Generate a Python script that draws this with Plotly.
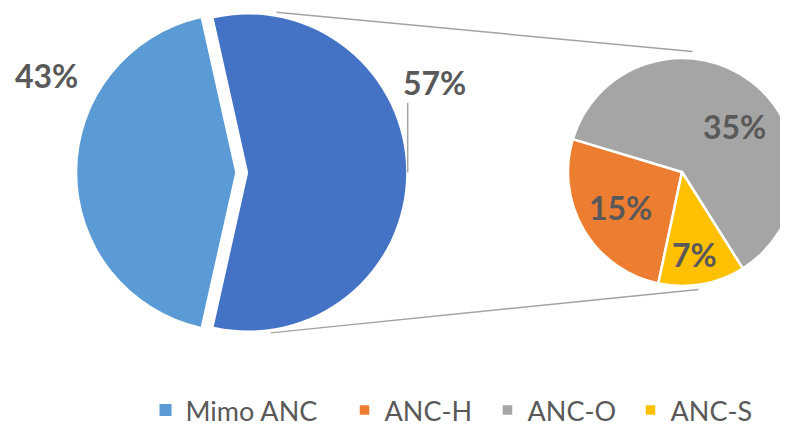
import math
import plotly.graph_objects as go

W, H = 788, 427
# the page shows the figure offset by the default 8px body margin
OX, OY = -8, -8

# ---- data ----
main_labels = ["Mimo ANC", "Other"]
main_values = [43, 57]
main_colors = ["#5B9BD5", "#4472C4"]

sub_labels = ["ANC-H", "ANC-O", "ANC-S"]
sub_values = [15, 35, 7]
sub_colors = ["#ED7D31", "#A5A5A5", "#FFC000"]

# ---- geometry (screen pixels) ----
MAIN_CX, MAIN_CY, MAIN_R, MAIN_PULL = 241.7, 172.5, 158.0, 0.041
SUB_CX, SUB_CY, SUB_R = 682.0, 172.0, 114.0
TXT = "#595959"
LINE = "#A3A3A3"
FONT = "Lato"


def px_to_paper(x, y):
    return (x + OX) / W, 1 - (y + OY) / H


def domain(cx, cy, half):
    x0, y1 = px_to_paper(cx - half, cy - half)
    x1, y0 = px_to_paper(cx + half, cy + half)
    return dict(x=[max(0.0, x0), min(1.0, x1)], y=[max(0.0, y0), min(1.0, y1)])


def polar(cx, cy, r, clock_deg):
    a = math.radians(clock_deg)
    return cx + r * math.sin(a), cy - r * math.cos(a)


def wrap(a):
    return (a + 180) % 360 - 180


main_total = sum(main_values)
main_rot = wrap(270 - 180 * main_values[0] / main_total)

fig = go.Figure()

# legend entry for the main-pie slice
fig.add_trace(go.Scatter(
    x=[None], y=[None], mode="markers", name=main_labels[0],
    marker=dict(symbol="square", size=12, color=main_colors[0]),
    legendwidth=154, hoverinfo="skip",
))

fig.add_trace(go.Pie(
    labels=main_labels, values=main_values, sort=False,
    direction="clockwise", rotation=main_rot,
    marker=dict(colors=main_colors, line=dict(color="white", width=0)),
    pull=[MAIN_PULL, MAIN_PULL], textinfo="none", showlegend=False,
    domain=domain(MAIN_CX, MAIN_CY, MAIN_R * (1 + MAIN_PULL)),
))

fig.add_trace(go.Pie(
    labels=sub_labels, values=sub_values, sort=False,
    direction="clockwise", rotation=-168,
    marker=dict(colors=sub_colors, line=dict(color="white", width=2.5)),
    textinfo="none", legendwidth=98,
    domain=domain(SUB_CX, SUB_CY, SUB_R),
))

# ---- percentage labels ----
left_vx = MAIN_CX - MAIN_PULL * MAIN_R
right_vx = MAIN_CX + MAIN_PULL * MAIN_R
label_pos = [
    (left_vx - 189, MAIN_CY - 96.5),   # 43%
    (right_vx + 186, MAIN_CY - 90),    # 57%
]
sub_label_off = [(-61.1, 35.0), (52.0, -45.0), (12.0, 82.5)]

annotations = []
for v, (x, y) in zip(main_values, label_pos):
    px, py = px_to_paper(x, y)
    annotations.append(dict(x=px, y=py, text=f"{v}%"))
for v, (dx, dy) in zip(sub_values, sub_label_off):
    px, py = px_to_paper(SUB_CX + dx, SUB_CY + dy)
    annotations.append(dict(x=px, y=py, text=f"{v}%"))
for a in annotations:
    a.update(xref="paper", yref="paper", xanchor="center", yanchor="middle",
             showarrow=False,
             font=dict(family=FONT, size=32, color=TXT, weight="bold"))

# ---- connector lines ----
shapes = []
t0 = polar(right_vx, MAIN_CY, MAIN_R * 1.03, 10)
t1 = polar(SUB_CX, SUB_CY, SUB_R * 1.06, 5)
b0 = polar(right_vx, MAIN_CY, MAIN_R * 1.025, 172)
b1 = polar(SUB_CX, SUB_CY, SUB_R * 1.04, 172)
for p0, p1 in [(t0, t1), (b0, b1)]:
    x0, y0 = px_to_paper(*p0)
    x1, y1 = px_to_paper(*p1)
    shapes.append(dict(type="line", xref="paper", yref="paper",
                       x0=x0, y0=y0, x1=x1, y1=y1,
                       line=dict(color=LINE, width=1.5)))
# leader line for the 57% label
lx = right_vx + MAIN_R + 1.5
x0, y0 = px_to_paper(lx, MAIN_CY)
x1, y1 = px_to_paper(lx, 103)
shapes.append(dict(type="line", xref="paper", yref="paper",
                   x0=x0, y0=y0, x1=x1, y1=y1,
                   line=dict(color=LINE, width=1.5)))

lgx, _ = px_to_paper(137.5 + 8, 0)

fig.update_layout(
    width=W, height=H,
    margin=dict(l=0, r=0, t=0, b=0, autoexpand=False),
    paper_bgcolor="white", plot_bgcolor="white",
    xaxis=dict(visible=False), yaxis=dict(visible=False),
    annotations=annotations, shapes=shapes,
    legend=dict(
        orientation="h", x=lgx, xanchor="left",
        y=0, yanchor="bottom",
        font=dict(family=FONT, size=27, color=TXT),
        bgcolor="rgba(0,0,0,0)",
    ),
)

fig.write_html("out.html")
